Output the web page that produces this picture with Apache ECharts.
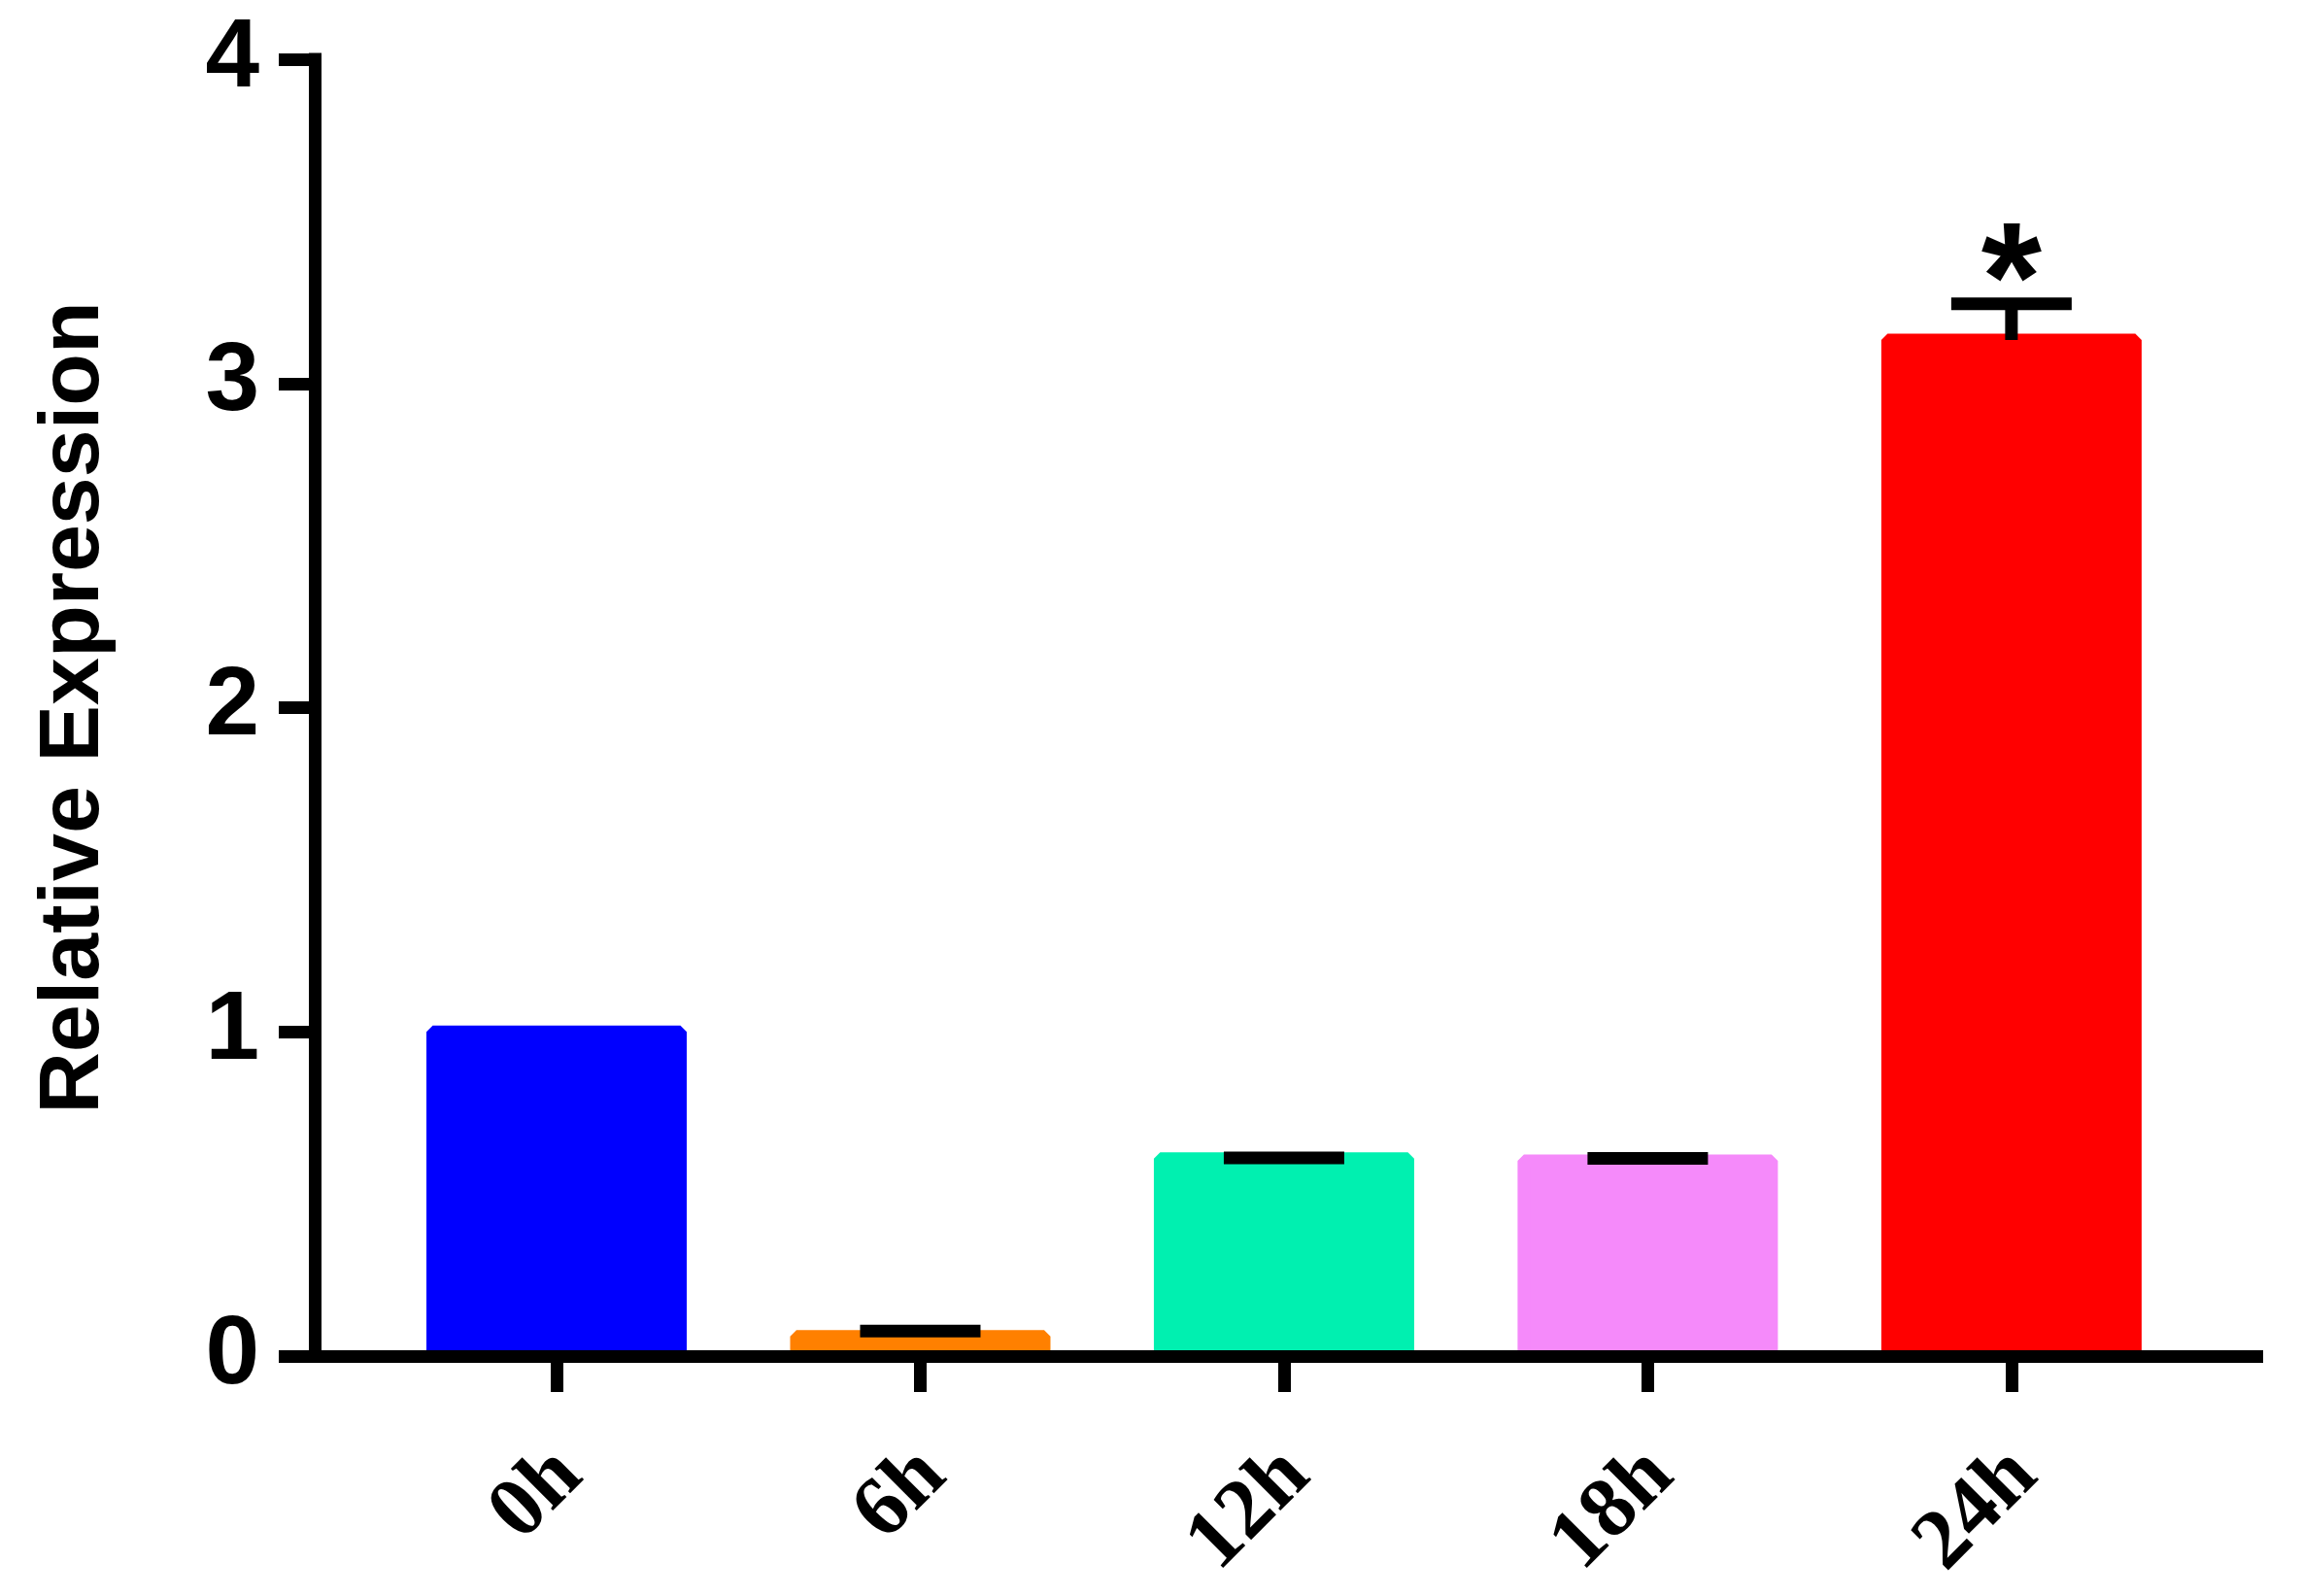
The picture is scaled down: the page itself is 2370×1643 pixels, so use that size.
<!DOCTYPE html>
<html>
<head>
<meta charset="utf-8">
<script src="https://cdn.jsdelivr.net/npm/echarts@6/dist/echarts.min.js"></script>
<style>
html,body{margin:0;padding:0;background:#fff;}
#chart{width:2370px;height:1643px;}
</style>
</head>
<body>
<div id="chart"></div>
<script>
// ---- data ----
const categories = ['0h', '6h', '12h', '18h', '24h'];
const means = [1.0, 0.061, 0.609, 0.602, 3.134];
const errors = [null, 0.016, 0.002, 0.008, 0.112];
const significance = ['', '', '', '', '*'];
const barColors = ['#0000FF', '#FF8000', '#00F0B0', '#F58AFA', '#FF0000'];
const yTicks = [0, 1, 2, 3, 4];

const positions = categories.map((c, i) => i);
const labelPositions = positions.map(p => p + 0.035);

const barData = means.map((m, i) => [positions[i], m, i]);
const errData = [];
means.forEach((m, i) => {
  if (errors[i] !== null) errData.push([positions[i], m, errors[i], i]);
});

const chart = echarts.init(document.getElementById('chart'), null, { renderer: 'canvas' });

const BAR_W = 255;
const LINE_W = 13;

const option = {
  backgroundColor: '#ffffff',
  animation: false,
  grid: { left: 324, right: 40, top: 61, bottom: 247, containLabel: false },
  xAxis: {
    type: 'value',
    min: -0.665,
    max: 4.692,
    z: 10,
    splitLine: { show: false },
    axisLine: { show: true, onZero: false, lineStyle: { color: '#000', width: LINE_W, cap: 'butt' } },
    axisTick: { show: true, customValues: positions, length: 37, lineStyle: { color: '#000', width: LINE_W } },
    axisLabel: {
      show: true,
      customValues: labelPositions,
      rotate: 45,
      margin: 110,
      fontFamily: '"Liberation Serif", "Times New Roman", serif',
      fontWeight: 'bold',
      fontSize: 88,
      color: '#000',
      formatter: function (v) { return categories[Math.round(v)]; }
    }
  },
  yAxis: {
    type: 'value',
    min: 0,
    max: 4,
    interval: 1,
    z: 10,
    name: 'Relative Expression',
    nameLocation: 'middle',
    nameGap: 203,
    nameTextStyle: {
      fontFamily: '"Liberation Sans", Arial, sans-serif',
      fontWeight: 'bold',
      fontSize: 88,
      color: '#000'
    },
    splitLine: { show: false },
    axisLine: { show: true, onZero: false, lineStyle: { color: '#000', width: LINE_W, cap: 'square' } },
    axisTick: { show: true, length: 37, lineStyle: { color: '#000', width: LINE_W } },
    axisLabel: {
      margin: 57,
      fontFamily: '"Liberation Sans", Arial, sans-serif',
      fontWeight: 'bold',
      fontSize: 100,
      color: '#000',
      formatter: function (v) { return yTicks.indexOf(v) >= 0 ? String(v) : ''; }
    }
  },
  series: [
    {
      type: 'custom',
      name: 'bars',
      data: barData,
      z: 2,
      renderItem: function (params, api) {
        const x = api.value(0), m = api.value(1), idx = api.value(2);
        const p0 = api.coord([x, 0]);
        const p1 = api.coord([x, m]);
        const c = barColors[idx];
        return {
          type: 'rect',
          shape: { x: p1[0] - BAR_W / 2, y: p1[1], width: BAR_W, height: p0[1] - p1[1] },
          style: { fill: c, stroke: c, lineWidth: LINE_W, lineJoin: 'bevel' }
        };
      }
    },
    {
      type: 'custom',
      name: 'errors',
      data: errData,
      z: 5,
      renderItem: function (params, api) {
        const x = api.value(0), m = api.value(1), e = api.value(2), idx = api.value(3);
        const base = api.coord([x, m]);
        const top = api.coord([x, m + e]);
        const children = [
          { type: 'line', shape: { x1: base[0], y1: base[1], x2: top[0], y2: top[1] },
            style: { stroke: '#000', lineWidth: LINE_W, lineCap: 'butt' } },
          { type: 'line', shape: { x1: top[0] - 62, y1: top[1], x2: top[0] + 62, y2: top[1] },
            style: { stroke: '#000', lineWidth: LINE_W, lineCap: 'butt' } }
        ];
        const s = significance[idx];
        if (s) {
          children.push({
            type: 'text',
            style: {
              text: s, x: top[0], y: top[1] - 17,
              align: 'center', verticalAlign: 'middle',
              fontFamily: '"Liberation Sans", Arial, sans-serif',
              fontWeight: 'bold', fontSize: 160, fill: '#000'
            }
          });
        }
        return { type: 'group', children: children };
      }
    }
  ]
};
chart.setOption(option);
</script>
</body>
</html>
